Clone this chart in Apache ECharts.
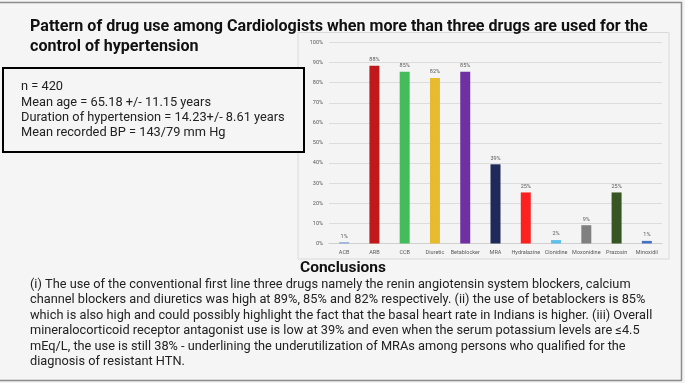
<!DOCTYPE html>
<html><head><meta charset="utf-8">
<script src="https://cdn.jsdelivr.net/npm/echarts@6/dist/echarts.min.js"></script>
<style>html,body{margin:0;padding:0;background:#f5f5f5;}#c{width:685px;height:383px;}</style>
</head><body><div id="c"></div>
<script>
const categories = ['ACB','ARB','CCB','Diuretic','Betablocker','MRA','Hydralazine','Clonidine','Moxonidine','Prazosin','Minoxidil'];
const values = [0.6, 88.4, 85.4, 82.4, 85.4, 39.4, 25.4, 1.7, 9.1, 25.4, 1.3];
const barColors = ['#7f9fd4','#c0181b','#45bc5b','#e6bb2f','#7030a0','#1f2a5a','#ff2020','#5bc0eb','#808080','#375623','#4472c4'];
const yTicks = [0,10,20,30,40,50,60,70,80,90,100];
const titleLines = ['Pattern of drug use among Cardiologists when more than three drugs are used for the','control of hypertension'];
const infoLines = ['n = 420','Mean age = 65.18 +/- 11.15 years','Duration of hypertension = 14.23+/- 8.61 years','Mean recorded BP = 143/79 mm Hg'];
const conclTitle = 'Conclusions';
const conclLines = [
 '(i) The use of the conventional first line three drugs namely the renin angiotensin system blockers, calcium',
 'channel blockers and diuretics was high at 89%, 85% and 82% respectively. (ii) the use of betablockers is 85%',
 'which is also high and could possibly highlight the fact that the basal heart rate in Indians is higher. (iii) Overall',
 'mineralocorticoid receptor antagonist use is low at 39% and even when the serum potassium levels are \u22644.5',
 'mEq/L, the use is still 38% - underlining the underutilization of MRAs among persons who qualified for the',
 'diagnosis of resistant HTN.'
];

const cv = document.createElement('canvas').getContext('2d');
function fit(text, weight, family, target){
  cv.font = weight + ' 100px ' + family;
  return 100 * target / cv.measureText(text).width;
}
const FAM = 'Roboto, "Noto Sans", sans-serif';
const titleSize = fit(titleLines[0], 'bold', FAM, 618);
const bodySize = fit(conclLines[0], 'normal', FAM, 601);
const infoSize = fit(infoLines[2], 'normal', FAM, 264);
const conclSize = fit(conclTitle, 'bold', FAM, 86);

const graphic = [
  {type:'rect', shape:{x:298,y:32.5,width:371,height:226.5}, style:{fill:'#f4f4f4', stroke:'#dadada', lineWidth:1}, z:-10},
  {type:'rect', shape:{x:3,y:68,width:301,height:84}, style:{fill:'#f5f5f5', stroke:'#000', lineWidth:2}},
  {type:'line', shape:{x1:0,y1:2.5,x2:682,y2:2.5}, style:{stroke:'#8c8c8c', lineWidth:1.5}},
  {type:'line', shape:{x1:681.5,y1:2,x2:681.5,y2:380.5}, style:{stroke:'#8c8c8c', lineWidth:1.5}},
  {type:'line', shape:{x1:0,y1:380.5,x2:682,y2:380.5}, style:{stroke:'#8c8c8c', lineWidth:1.5}},
];
titleLines.forEach((t,i)=>graphic.push({type:'text', x:30, y:27+i*19.5, style:{text:t, font:'bold '+titleSize.toFixed(2)+'px '+FAM, fill:'#111', textVerticalAlign:'middle'}}));
infoLines.forEach((t,i)=>graphic.push({type:'text', x:21, y:87+i*15.4, style:{text:t, font:'normal '+infoSize.toFixed(2)+'px '+FAM, fill:'#222', textVerticalAlign:'middle'}}));
graphic.push({type:'text', x:343, y:268, style:{text:conclTitle, font:'bold '+conclSize.toFixed(2)+'px '+FAM, fill:'#111', textAlign:'center', textVerticalAlign:'middle'}});
conclLines.forEach((t,i)=>graphic.push({type:'text', x:30, y:284.5+i*15.5, style:{text:t, font:'normal '+bodySize.toFixed(2)+'px '+FAM, fill:'#222', textVerticalAlign:'middle'}}));

const chart = echarts.init(document.getElementById('c'), null, {renderer:'canvas'});
chart.setOption({
  backgroundColor:'#f5f5f5',
  animation:false,
  graphic: graphic,
  grid:{left:329, right:23, top:42.5, bottom:139.5, containLabel:false},
  xAxis:{type:'category', data:categories,
    axisLine:{lineStyle:{color:'#d0d0d0'}}, axisTick:{show:false},
    axisLabel:{fontSize:5.5, color:'#595959', margin:6, interval:0, fontFamily:FAM}},
  yAxis:{type:'value', min:0, max:100, interval:10,
    axisLabel:{fontSize:5.5, color:'#595959', formatter:v=>v+'%', margin:6, fontFamily:FAM},
    splitLine:{lineStyle:{color:'#dcdcdc', width:1}}, axisLine:{show:false}, axisTick:{show:false}},
  series:[{type:'bar', barWidth:'33%',
    data: values.map((v,i)=>({value:v, itemStyle:{color:barColors[i]}})),
    label:{show:true, position:'top', fontSize:5.5, color:'#595959', distance:3, fontFamily:FAM, formatter:p=>Math.round(p.value)+'%'}
  }]
});
</script></body></html>
